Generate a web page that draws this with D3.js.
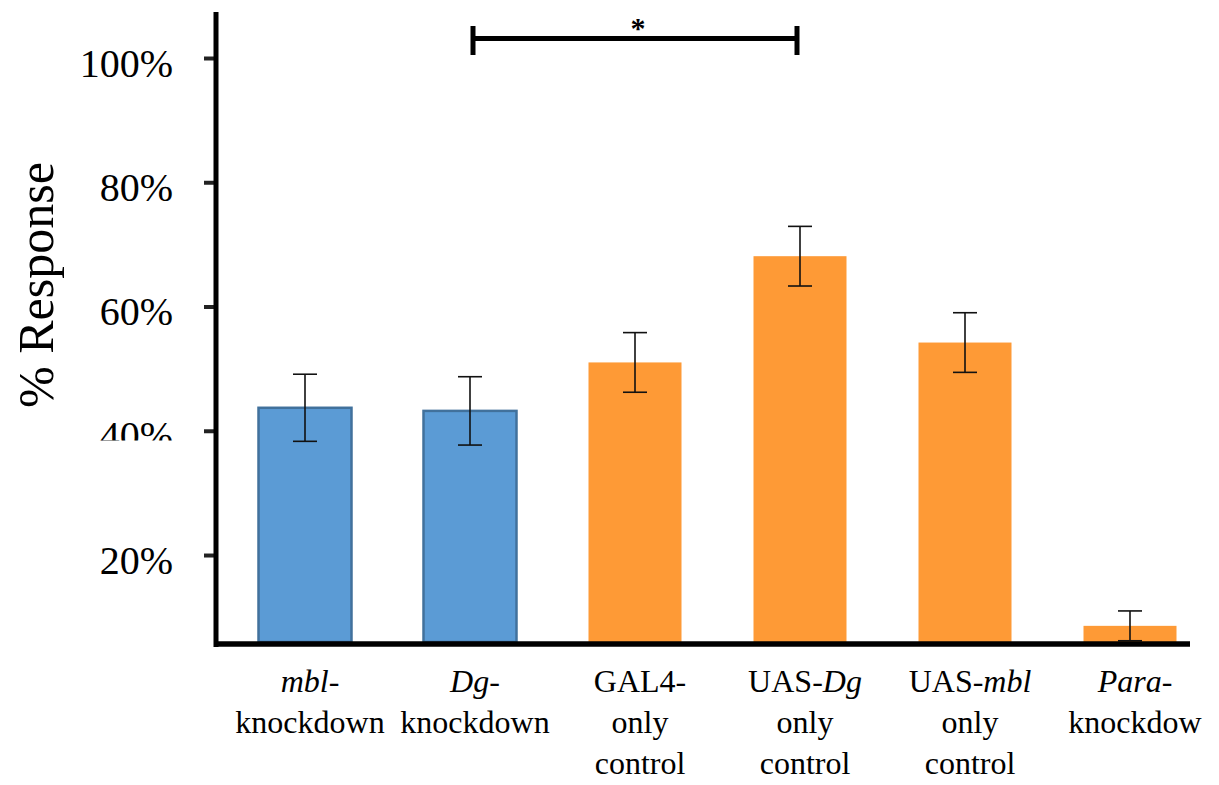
<!DOCTYPE html>
<html>
<head>
<meta charset="utf-8">
<script src="https://cdn.jsdelivr.net/npm/d3@7"></script>
<style>
  html, body { margin: 0; padding: 0; background: #fff; }
  svg { display: block; font-family: "Liberation Serif", "Times New Roman", serif; }
</style>
</head>
<body>
<svg id="chart" width="1219" height="785"></svg>
<script>
// ---- data ----
const categories = ["mbl-knockdown", "Dg-knockdown", "GAL4-only control", "UAS-Dg only control", "UAS-mbl only control", "Para-knockdown"];
const values = [0.437, 0.432, 0.510, 0.681, 0.542, 0.086];
const errors = [0.054, 0.055, 0.048, 0.048, 0.048, 0.024];
const groups = ["knockdown", "knockdown", "control", "control", "control", "control"];
const yTicks = [0.2, 0.4, 0.6, 0.8, 1.0];
// label lines: each line is a list of [text, italic]
const labelLines = [
  [[["mbl", true], ["-", false]], [["knockdown", false]]],
  [[["Dg", true], ["-", false]], [["knockdown", false]]],
  [[["GAL4-", false]], [["only", false]], [["control", false]]],
  [[["UAS-", false], ["Dg", true]], [["only", false]], [["control", false]]],
  [[["UAS-", false], ["mbl", true]], [["only", false]], [["control", false]]],
  [[["Para", true], ["-", false]], [["knockdow", false]]]
];
const sigPair = ["Dg-knockdown", "UAS-Dg only control"];
const sigLabel = "*";
const yTitle = "% Response";

// ---- layout ----
const svg = d3.select("#chart");
const axisX = 216, baseY = 642, topY = 12;
const y = d3.scaleLinear().domain([0.06, 1.0]).range([baseY, 58]);
const x = d3.scalePoint().domain(categories).range([305, 1130]);
const barW = 93;
const color = d3.scaleOrdinal().domain(["knockdown", "control"]).range(["#5b9bd5", "#fe9a36"]);
const strokeC = d3.scaleOrdinal().domain(["knockdown", "control"]).range(["#41719c", "none"]);

const defs = svg.append("defs");
defs.append("clipPath").attr("id", "clip40").append("rect")
  .attr("x", -200).attr("y", -100).attr("width", 400).attr("height", 100 + (440 - y(0.4)));
defs.append("clipPath").attr("id", "clipStar").append("rect")
  .attr("x", 0).attr("y", 18).attr("width", 1219).attr("height", 30);

// bars
svg.append("g").selectAll("rect").data(categories).join("rect")
  .attr("x", d => x(d) - barW / 2)
  .attr("y", (d, i) => y(values[i]))
  .attr("width", barW)
  .attr("height", (d, i) => baseY - y(values[i]))
  .attr("fill", (d, i) => color(groups[i]))
  .attr("stroke", (d, i) => strokeC(groups[i]))
  .attr("stroke-width", 2.5);

// error bars
const eg = svg.append("g").attr("stroke", "#111").attr("stroke-width", 1.6);
categories.forEach((c, i) => {
  const cx = x(c), hi = y(values[i] + errors[i]), lo = y(values[i] - errors[i]);
  eg.append("line").attr("x1", cx).attr("x2", cx).attr("y1", hi).attr("y2", lo);
  eg.append("line").attr("x1", cx - 12).attr("x2", cx + 12).attr("y1", hi).attr("y2", hi);
  eg.append("line").attr("x1", cx - 12).attr("x2", cx + 12).attr("y1", lo).attr("y2", lo);
});

// y axis ticks + labels
const yAxis = d3.axisLeft(y).tickValues(yTicks).tickFormat(d3.format(".0%")).tickSize(12).tickPadding(31);
const ga = svg.append("g").attr("transform", `translate(${axisX},0)`).call(yAxis);
ga.select(".domain").remove();
ga.selectAll(".tick line").attr("stroke", "#222").attr("stroke-width", 4);
ga.selectAll(".tick text").attr("font-size", 40).attr("fill", "#000")
  .attr("font-family", "Liberation Serif, Times New Roman, serif").attr("dy", "0.45em");
ga.selectAll(".tick").filter(d => d === 0.4).select("text").attr("clip-path", "url(#clip40)");

// axis lines
svg.append("line").attr("x1", axisX).attr("x2", axisX).attr("y1", topY).attr("y2", 647)
  .attr("stroke", "#000").attr("stroke-width", 5);
svg.append("line").attr("x1", axisX - 2).attr("x2", 1190).attr("y1", 644).attr("y2", 644)
  .attr("stroke", "#000").attr("stroke-width", 5.5);

// x labels
const lg = svg.append("g").attr("font-size", 32).attr("fill", "#000").attr("text-anchor", "middle");
categories.forEach((c, i) => {
  labelLines[i].forEach((line, j) => {
    const t = lg.append("text").attr("x", x(c) + 5).attr("y", 692 + j * 41);
    line.forEach(([s, it]) => t.append("tspan").text(s).attr("font-style", it ? "italic" : "normal"));
  });
});

// y title
svg.append("text").attr("transform", "translate(53,285) rotate(-90)")
  .attr("text-anchor", "middle").attr("font-size", 50).attr("fill", "#000").text(yTitle);

// significance bracket
const bx1 = x(sigPair[0]) + 3, bx2 = x(sigPair[1]) - 3, by = 38.5;
const bg = svg.append("g").attr("stroke", "#000").attr("stroke-width", 5);
bg.append("line").attr("x1", bx1).attr("x2", bx2).attr("y1", by).attr("y2", by);
bg.append("line").attr("x1", bx1).attr("x2", bx1).attr("y1", 26).attr("y2", 55);
bg.append("line").attr("x1", bx2).attr("x2", bx2).attr("y1", 26).attr("y2", 55);
svg.append("text").attr("x", (bx1 + bx2) / 2 + 3).attr("y", 38).attr("text-anchor", "middle")
  .attr("font-size", 30).attr("font-weight", "bold").attr("fill", "#000")
  .attr("clip-path", "url(#clipStar)").text(sigLabel);
</script>
</body>
</html>
